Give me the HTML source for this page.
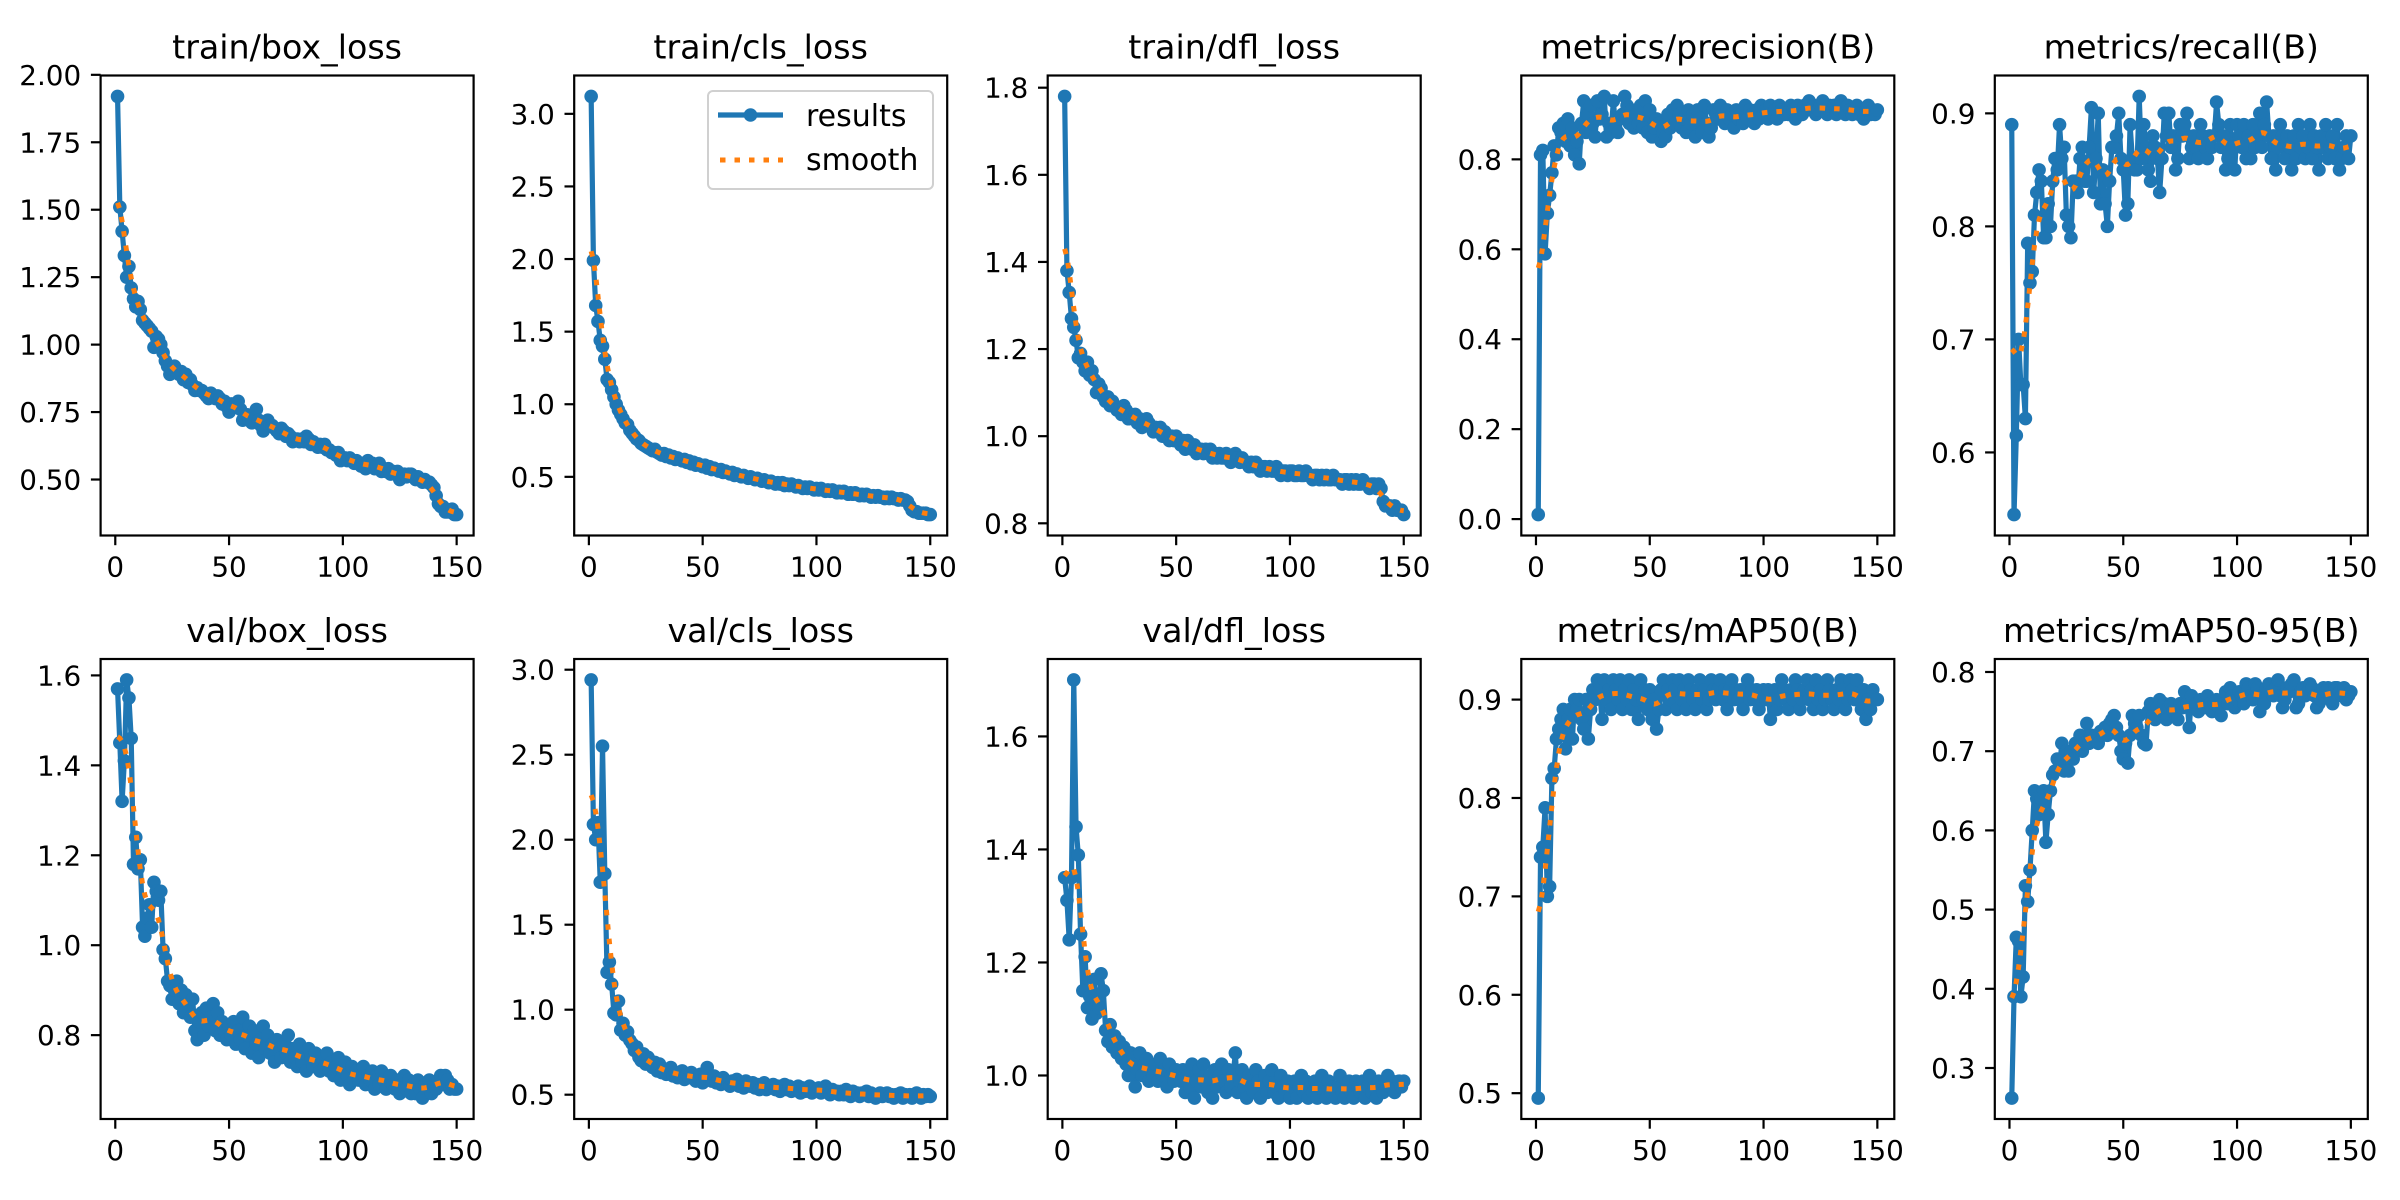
<!DOCTYPE html>
<html><head><meta charset="utf-8"><title>results</title>
<style>html,body{margin:0;padding:0;background:#fff}svg{display:block}text{font-family:"DejaVu Sans","Liberation Sans",sans-serif;fill:#000}</style>
</head><body>
<svg id="fig" width="2400" height="1200" viewBox="0 0 2400 1200" xmlns="http://www.w3.org/2000/svg">
<rect width="2400" height="1200" fill="#fff"/>
</svg>
<script>
const titles=["train/box_loss","train/cls_loss","train/dfl_loss","metrics/precision(B)","metrics/recall(B)","val/box_loss","val/cls_loss","val/dfl_loss","metrics/mAP50(B)","metrics/mAP50-95(B)"];
const xTicks=[0,50,100,150];
const yTicks0=[0.5,0.75,1.0,1.25,1.5,1.75,2.0];
const yTicks1=[0.5,1.0,1.5,2.0,2.5,3.0];
const yTicks2=[0.8,1.0,1.2,1.4,1.6,1.8];
const yTicks3=[0.0,0.2,0.4,0.6,0.8];
const yTicks4=[0.6,0.7,0.8,0.9];
const yTicks5=[0.8,1.0,1.2,1.4,1.6];
const yTicks6=[0.5,1.0,1.5,2.0,2.5,3.0];
const yTicks7=[1.0,1.2,1.4,1.6];
const yTicks8=[0.5,0.6,0.7,0.8,0.9];
const yTicks9=[0.3,0.4,0.5,0.6,0.7,0.8];
const tickDec=[2,1,1,1,1,1,1,1,1,1];
const trainBox=[1.92,1.51,1.42,1.33,1.25,1.29,1.21,1.17,1.14,1.16,1.13,1.09,1.08,1.07,1.06,1.05,0.99,1.03,1.02,1.00,0.97,0.94,0.92,0.89,0.91,0.92,0.90,0.89,0.90,0.87,0.89,0.86,0.87,0.85,0.83,0.84,0.83,0.83,0.82,0.81,0.80,0.82,0.81,0.80,0.81,0.80,0.78,0.79,0.77,0.75,0.78,0.77,0.78,0.79,0.76,0.72,0.73,0.74,0.72,0.71,0.74,0.76,0.72,0.70,0.68,0.71,0.72,0.70,0.70,0.69,0.68,0.67,0.69,0.68,0.66,0.67,0.66,0.64,0.65,0.65,0.64,0.65,0.64,0.66,0.65,0.63,0.64,0.63,0.62,0.63,0.62,0.63,0.61,0.61,0.60,0.60,0.59,0.60,0.57,0.58,0.58,0.57,0.58,0.57,0.56,0.57,0.56,0.55,0.56,0.54,0.57,0.55,0.56,0.54,0.55,0.56,0.53,0.54,0.53,0.54,0.52,0.53,0.52,0.53,0.50,0.51,0.52,0.51,0.52,0.52,0.51,0.50,0.51,0.50,0.49,0.50,0.49,0.49,0.48,0.47,0.44,0.41,0.40,0.40,0.38,0.38,0.38,0.39,0.37,0.37];
const trainCls=[3.12,1.99,1.68,1.57,1.44,1.40,1.31,1.17,1.15,1.10,1.05,1.00,0.96,0.93,0.90,0.87,0.86,0.82,0.80,0.78,0.76,0.75,0.73,0.72,0.71,0.70,0.69,0.68,0.69,0.67,0.66,0.65,0.66,0.64,0.65,0.63,0.64,0.62,0.63,0.62,0.61,0.62,0.60,0.61,0.59,0.60,0.58,0.59,0.58,0.57,0.58,0.56,0.57,0.55,0.56,0.55,0.54,0.55,0.53,0.54,0.53,0.52,0.53,0.51,0.52,0.51,0.50,0.51,0.50,0.49,0.50,0.49,0.48,0.49,0.48,0.47,0.48,0.47,0.46,0.47,0.46,0.45,0.46,0.45,0.46,0.44,0.45,0.44,0.45,0.44,0.43,0.44,0.43,0.42,0.43,0.42,0.43,0.42,0.41,0.42,0.41,0.42,0.41,0.40,0.41,0.40,0.41,0.40,0.39,0.40,0.39,0.40,0.39,0.38,0.39,0.38,0.39,0.38,0.37,0.38,0.37,0.38,0.37,0.36,0.37,0.36,0.37,0.36,0.36,0.35,0.36,0.35,0.36,0.35,0.35,0.34,0.35,0.34,0.34,0.33,0.30,0.27,0.26,0.26,0.25,0.25,0.25,0.25,0.24,0.24];
const trainDfl=[1.78,1.38,1.33,1.27,1.25,1.22,1.18,1.19,1.17,1.15,1.17,1.14,1.15,1.13,1.10,1.12,1.11,1.09,1.08,1.09,1.07,1.08,1.07,1.06,1.06,1.05,1.07,1.06,1.04,1.05,1.04,1.05,1.03,1.04,1.02,1.03,1.04,1.03,1.02,1.01,1.02,1.01,1.02,1.00,1.01,1.00,0.99,1.00,0.99,1.00,0.99,0.98,0.99,0.97,0.99,0.98,0.97,0.98,0.96,0.97,0.97,0.96,0.97,0.96,0.97,0.95,0.96,0.95,0.96,0.95,0.95,0.96,0.95,0.94,0.95,0.96,0.95,0.94,0.95,0.94,0.94,0.93,0.94,0.93,0.94,0.93,0.92,0.93,0.93,0.92,0.93,0.92,0.92,0.93,0.92,0.91,0.92,0.92,0.91,0.92,0.92,0.91,0.91,0.92,0.91,0.91,0.92,0.91,0.91,0.90,0.91,0.91,0.90,0.91,0.90,0.91,0.90,0.90,0.91,0.90,0.90,0.90,0.89,0.90,0.90,0.89,0.90,0.89,0.90,0.89,0.89,0.90,0.89,0.89,0.88,0.89,0.89,0.88,0.89,0.88,0.85,0.84,0.84,0.84,0.83,0.84,0.83,0.83,0.83,0.82];
const precision=[0.01,0.81,0.82,0.59,0.68,0.72,0.77,0.83,0.81,0.87,0.86,0.88,0.84,0.89,0.83,0.87,0.81,0.84,0.79,0.88,0.93,0.86,0.90,0.92,0.88,0.85,0.93,0.89,0.90,0.94,0.85,0.88,0.86,0.93,0.87,0.86,0.89,0.90,0.94,0.92,0.88,0.91,0.87,0.90,0.88,0.92,0.87,0.93,0.86,0.91,0.85,0.87,0.89,0.88,0.84,0.86,0.85,0.90,0.87,0.91,0.88,0.92,0.90,0.87,0.89,0.86,0.91,0.88,0.90,0.85,0.91,0.89,0.86,0.92,0.88,0.85,0.87,0.91,0.90,0.89,0.92,0.90,0.88,0.91,0.89,0.90,0.87,0.91,0.89,0.90,0.88,0.92,0.89,0.91,0.90,0.88,0.91,0.89,0.92,0.90,0.91,0.89,0.92,0.90,0.91,0.89,0.92,0.91,0.90,0.91,0.90,0.92,0.91,0.89,0.92,0.91,0.90,0.92,0.91,0.93,0.91,0.92,0.90,0.91,0.92,0.93,0.91,0.90,0.92,0.91,0.92,0.90,0.91,0.93,0.91,0.90,0.92,0.91,0.90,0.91,0.92,0.90,0.91,0.89,0.91,0.92,0.90,0.91,0.90,0.91];
const recall=[0.89,0.545,0.615,0.70,0.66,0.66,0.63,0.785,0.75,0.76,0.81,0.83,0.85,0.84,0.79,0.79,0.82,0.80,0.84,0.86,0.85,0.89,0.86,0.87,0.81,0.80,0.79,0.84,0.84,0.83,0.86,0.87,0.84,0.84,0.87,0.905,0.83,0.86,0.90,0.82,0.85,0.82,0.80,0.84,0.87,0.87,0.88,0.90,0.86,0.85,0.81,0.82,0.89,0.86,0.85,0.85,0.915,0.86,0.89,0.87,0.85,0.84,0.88,0.87,0.86,0.83,0.86,0.90,0.88,0.90,0.87,0.88,0.85,0.86,0.89,0.88,0.89,0.90,0.86,0.87,0.88,0.87,0.86,0.89,0.88,0.87,0.86,0.88,0.87,0.88,0.91,0.89,0.87,0.88,0.85,0.86,0.89,0.87,0.85,0.89,0.88,0.87,0.89,0.86,0.88,0.86,0.89,0.87,0.88,0.90,0.87,0.89,0.91,0.88,0.86,0.88,0.85,0.87,0.89,0.88,0.86,0.88,0.87,0.85,0.88,0.86,0.89,0.87,0.88,0.86,0.87,0.89,0.86,0.88,0.87,0.85,0.88,0.87,0.89,0.86,0.87,0.88,0.86,0.89,0.85,0.86,0.87,0.88,0.86,0.88];
const valBox=[1.57,1.45,1.32,1.41,1.59,1.55,1.46,1.18,1.24,1.17,1.19,1.04,1.02,1.06,1.09,1.04,1.14,1.12,1.10,1.12,0.99,0.97,0.92,0.91,0.88,0.90,0.92,0.87,0.90,0.85,0.89,0.87,0.84,0.88,0.81,0.79,0.83,0.85,0.80,0.86,0.82,0.84,0.87,0.81,0.85,0.80,0.83,0.81,0.79,0.82,0.80,0.83,0.78,0.81,0.79,0.84,0.77,0.80,0.82,0.76,0.81,0.78,0.75,0.79,0.82,0.77,0.80,0.76,0.78,0.74,0.79,0.77,0.75,0.78,0.76,0.80,0.74,0.77,0.75,0.73,0.78,0.74,0.76,0.72,0.77,0.75,0.73,0.76,0.74,0.72,0.75,0.73,0.76,0.72,0.74,0.71,0.73,0.75,0.70,0.72,0.74,0.71,0.69,0.73,0.70,0.72,0.70,0.71,0.73,0.69,0.71,0.70,0.72,0.68,0.71,0.69,0.72,0.70,0.68,0.70,0.71,0.69,0.68,0.70,0.67,0.69,0.71,0.68,0.70,0.67,0.69,0.67,0.70,0.68,0.66,0.69,0.68,0.70,0.67,0.69,0.68,0.70,0.71,0.69,0.71,0.70,0.68,0.69,0.68,0.68];
const valCls=[2.94,2.09,2.00,2.10,1.75,2.55,1.80,1.22,1.28,1.15,0.98,0.97,1.05,0.88,0.92,0.85,0.87,0.82,0.80,0.76,0.78,0.72,0.70,0.74,0.68,0.72,0.70,0.66,0.69,0.64,0.68,0.63,0.65,0.62,0.64,0.66,0.61,0.63,0.60,0.62,0.64,0.59,0.62,0.60,0.63,0.61,0.58,0.60,0.62,0.57,0.60,0.66,0.59,0.58,0.61,0.57,0.59,0.56,0.60,0.58,0.57,0.55,0.58,0.56,0.59,0.55,0.57,0.54,0.58,0.56,0.55,0.57,0.54,0.56,0.53,0.55,0.57,0.53,0.55,0.54,0.56,0.53,0.55,0.52,0.54,0.56,0.53,0.55,0.52,0.54,0.53,0.55,0.51,0.54,0.52,0.53,0.55,0.51,0.53,0.52,0.54,0.51,0.53,0.55,0.52,0.50,0.53,0.51,0.52,0.50,0.52,0.50,0.53,0.51,0.49,0.52,0.50,0.51,0.49,0.51,0.50,0.52,0.49,0.51,0.50,0.48,0.50,0.51,0.49,0.50,0.51,0.49,0.50,0.48,0.50,0.49,0.51,0.48,0.50,0.49,0.50,0.48,0.49,0.51,0.49,0.48,0.50,0.49,0.50,0.49];
const valDfl=[1.35,1.31,1.24,1.35,1.70,1.44,1.39,1.25,1.15,1.21,1.12,1.14,1.10,1.17,1.11,1.12,1.18,1.15,1.08,1.06,1.09,1.05,1.07,1.04,1.06,1.03,1.05,1.02,1.00,1.04,1.03,0.98,1.01,1.04,1.00,1.02,1.03,0.99,1.01,1.00,1.02,0.99,1.03,1.00,1.01,0.98,1.02,1.00,0.99,1.01,1.00,0.99,1.01,0.97,1.00,0.98,1.02,0.96,0.99,1.01,0.98,1.02,0.99,0.97,1.00,0.96,1.01,0.98,1.00,1.02,0.99,0.97,1.01,0.98,1.00,1.04,0.97,0.99,1.01,0.98,0.96,1.00,0.98,0.97,1.01,0.99,0.96,0.98,1.00,0.97,0.99,1.01,0.97,0.98,0.96,1.00,0.98,0.97,0.99,0.96,0.98,0.99,0.96,0.98,1.00,0.97,0.99,0.96,0.98,0.97,0.99,0.96,0.98,1.00,0.97,0.96,0.99,0.97,0.98,0.96,0.98,1.00,0.97,0.96,0.98,0.99,0.97,0.96,0.99,0.98,0.97,0.99,0.96,0.98,1.00,0.97,0.98,0.96,0.99,0.98,0.97,0.99,1.00,0.98,0.99,0.97,0.98,0.99,0.98,0.99];
const map50=[0.495,0.74,0.75,0.79,0.70,0.71,0.82,0.83,0.86,0.87,0.88,0.89,0.85,0.88,0.89,0.86,0.90,0.89,0.90,0.88,0.87,0.90,0.86,0.89,0.91,0.90,0.92,0.91,0.88,0.92,0.90,0.91,0.89,0.92,0.91,0.90,0.92,0.89,0.91,0.90,0.92,0.89,0.91,0.90,0.88,0.92,0.90,0.91,0.89,0.91,0.88,0.90,0.87,0.89,0.91,0.92,0.89,0.91,0.90,0.92,0.91,0.89,0.92,0.90,0.91,0.89,0.92,0.91,0.90,0.89,0.91,0.92,0.90,0.91,0.89,0.90,0.92,0.91,0.90,0.91,0.92,0.90,0.91,0.89,0.91,0.92,0.90,0.91,0.90,0.91,0.89,0.91,0.92,0.90,0.91,0.90,0.91,0.89,0.90,0.91,0.90,0.91,0.88,0.90,0.91,0.89,0.90,0.92,0.91,0.90,0.89,0.91,0.90,0.92,0.91,0.89,0.90,0.91,0.92,0.90,0.91,0.89,0.92,0.90,0.91,0.89,0.90,0.92,0.91,0.90,0.89,0.91,0.90,0.92,0.91,0.89,0.90,0.92,0.91,0.90,0.92,0.90,0.89,0.91,0.88,0.90,0.89,0.91,0.90,0.90];
const map5095=[0.262,0.39,0.465,0.46,0.39,0.415,0.53,0.51,0.55,0.60,0.65,0.64,0.62,0.64,0.65,0.585,0.62,0.65,0.67,0.675,0.69,0.68,0.71,0.675,0.70,0.675,0.70,0.69,0.71,0.705,0.72,0.70,0.71,0.735,0.71,0.72,0.715,0.72,0.71,0.725,0.72,0.73,0.72,0.735,0.74,0.745,0.73,0.72,0.70,0.69,0.71,0.685,0.72,0.745,0.735,0.73,0.745,0.72,0.71,0.708,0.75,0.76,0.745,0.74,0.755,0.765,0.75,0.76,0.74,0.755,0.76,0.75,0.745,0.74,0.76,0.755,0.775,0.76,0.73,0.77,0.755,0.76,0.75,0.765,0.76,0.755,0.77,0.76,0.75,0.76,0.765,0.755,0.745,0.76,0.775,0.76,0.78,0.77,0.755,0.765,0.775,0.77,0.76,0.785,0.78,0.77,0.765,0.785,0.78,0.75,0.77,0.76,0.78,0.785,0.775,0.77,0.78,0.79,0.77,0.755,0.765,0.78,0.775,0.785,0.79,0.755,0.76,0.775,0.78,0.77,0.775,0.785,0.78,0.77,0.755,0.76,0.765,0.78,0.775,0.78,0.77,0.76,0.78,0.78,0.775,0.77,0.78,0.765,0.77,0.775];
const series=[trainBox,trainCls,trainDfl,precision,recall,valBox,valCls,valDfl,map50,map5095];
const yTicksAll=[yTicks0,yTicks1,yTicks2,yTicks3,yTicks4,yTicks5,yTicks6,yTicks7,yTicks8,yTicks9];
const names=["train-box-loss","train-cls-loss","train-dfl-loss","precision","recall","val-box-loss","val-cls-loss","val-dfl-loss","map50","map50-95"];

const NS="http://www.w3.org/2000/svg";
const svg=document.getElementById('fig');
function mk(tag,attrs,parent){const e=document.createElementNS(NS,tag);for(const k in attrs)e.setAttribute(k,attrs[k]);(parent||svg).appendChild(e);return e;}
function gauss(y,s){const r=Math.ceil(4*s),w=[];let sum=0;for(let i=-r;i<=r;i++){const v=Math.exp(-0.5*i*i/(s*s));w.push(v);sum+=v;}
 const n=y.length,out=[];const idx=j=>{while(j<0||j>=n){if(j<0)j=-j-1;if(j>=n)j=2*n-j-1;}return j;};
 for(let i=0;i<n;i++){let a=0;for(let k=-r;k<=r;k++)a+=w[k+r]*y[idx(i+k)];out.push(a/sum);}return out;}
const lefts=[100.6,574.2,1047.7,1521.3,1994.8],tops=[75.5,659],W=373,H=460;
const BLUE="#1f77b4",ORANGE="#ff7f0e";
series.forEach((ys,p)=>{
 const L=lefts[p%5],T=tops[Math.floor(p/5)];
 const g=mk('g',{});
 
 
 const n=ys.length,xs=ys.map((_,i)=>i+1);
 const sm=gauss(ys,3);
 const all=ys.concat(sm);
 let mn=Math.min(...all),mx=Math.max(...all);const pad=(mx-mn)*0.05;mn-=pad;mx+=pad;
 const x0=1-(n-1)*0.05,x1=n+(n-1)*0.05;
 const sx=v=>L+(v-x0)/(x1-x0)*W, sy=v=>T+H-(v-mn)/(mx-mn)*H;
 const pts=xs.map((x,i)=>sx(x).toFixed(2)+','+sy(ys[i]).toFixed(2)).join(' ');
 const line=mk('polyline',{points:pts,fill:'none',stroke:BLUE,'stroke-width':5.2,'stroke-linejoin':'round'},g);
 
 
 xs.forEach((x,i)=>{const c=mk('circle',{cx:sx(x).toFixed(2),cy:sy(ys[i]).toFixed(2),r:6.8,fill:BLUE},g);
  
  });
 const sp=xs.map((x,i)=>sx(x).toFixed(2)+','+sy(sm[i]).toFixed(2)).join(' ');
 const sl=mk('polyline',{points:sp,fill:'none',stroke:ORANGE,'stroke-width':5,'stroke-dasharray':'5.5 9'},g);
 
 
 const fr=mk('rect',{x:L,y:T,width:W,height:H,fill:'none',stroke:'#000','stroke-width':2.2},g);
 
 
 xTicks.forEach(t=>{const X=sx(t);mk('line',{x1:X,x2:X,y1:T+H,y2:T+H+9.7,stroke:'#000','stroke-width':2.2},g);
  const tx=mk('text',{x:X,y:T+H+41,'font-size':27.8,'text-anchor':'middle'},g);tx.textContent=String(t);
  
  });
 yTicksAll[p].forEach(t=>{const Y=sy(t);mk('line',{x1:L-9.7,x2:L,y1:Y,y2:Y,stroke:'#000','stroke-width':2.2},g);
  const tx=mk('text',{x:L-19.4,y:Y+10,'font-size':27.8,'text-anchor':'end'},g);tx.textContent=t.toFixed(tickDec[p]);
  
  });
 const ti=mk('text',{x:L+W/2,y:T-17,'font-size':33.3,'text-anchor':'middle'},g);ti.textContent=titles[p];
 
 
});
const lg=mk('g',{});


mk('rect',{x:708,y:91,width:225,height:98,rx:5,fill:'#fff','fill-opacity':0.8,stroke:'#d0d0d0','stroke-width':2},lg);
mk('line',{x1:718,x2:783,y1:115,y2:115,stroke:BLUE,'stroke-width':5.2},lg);
mk('circle',{cx:750.5,cy:115,r:6.8,fill:BLUE},lg);
mk('line',{x1:720,x2:783,y1:160,y2:160,stroke:ORANGE,'stroke-width':5,'stroke-dasharray':'5.5 9'},lg);
const l1=mk('text',{x:806,y:126,'font-size':30},lg);l1.textContent='results';


const l2=mk('text',{x:806,y:170,'font-size':30},lg);l2.textContent='smooth';


</script>
</body></html>
